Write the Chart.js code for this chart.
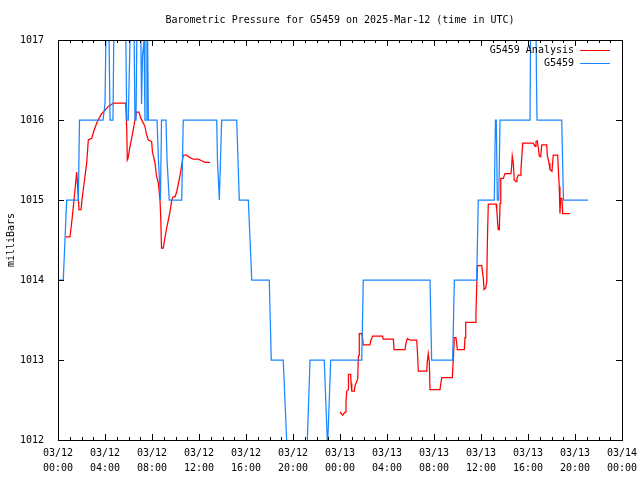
<!DOCTYPE html>
<html>
<head>
<meta charset="utf-8">
<script src="https://cdn.jsdelivr.net/npm/chart.js@4.4.1/dist/chart.umd.min.js"></script>
<style>
  html, body { margin: 0; padding: 0; background: #fff; }
  canvas { display: block; }
</style>
</head>
<body>
<canvas id="pressureChart" width="640" height="480"></canvas>
<script>
// hours since 2025-03-12 00:00 UTC
const analysisHours = [0.66, 1.02, 1.19, 1.36, 1.59, 1.70, 1.79, 1.96, 2.07, 2.26, 2.44, 2.58, 2.87, 3.02, 3.29, 3.49, 3.72, 4.00, 4.28, 4.51, 4.71,
    5.76, 5.85, 5.90, 5.96, 6.13, 6.41, 6.55, 6.70, 6.89, 7.06, 7.23, 7.40, 7.53, 7.69, 7.97, 8.04, 8.26, 8.38, 8.54, 8.68, 8.74, 8.81,
    8.96, 9.11, 9.25, 9.39, 9.53, 9.68, 9.79, 9.96, 10.10, 10.24, 10.38, 10.53, 10.66, 10.95, 11.23, 11.51, 11.94, 12.23, 12.51, 12.94,
    18.00,
    24.00, 24.23, 24.43, 24.51, 24.57, 24.71, 24.72, 24.91, 24.94, 25.00, 25.22, 25.28, 25.42, 25.51, 25.56, 25.62, 25.64, 25.85, 25.93, 25.98,
    26.55, 26.64, 26.78, 27.63, 27.68, 28.54, 28.60, 29.53, 29.62, 29.73, 29.96, 30.53, 30.61, 30.66, 31.38, 31.43, 31.51, 31.60, 31.66,
    32.51, 32.57, 32.66, 33.56, 33.64, 33.73, 33.87, 33.93, 33.98, 34.58, 34.64, 34.70, 35.49, 35.57, 35.63, 35.70, 36.06, 36.20, 36.26,
    36.40, 36.49, 36.54, 36.62, 37.28, 37.34, 37.42, 37.47, 37.56, 37.62, 37.68, 37.90, 38.04, 38.55, 38.61, 38.66, 38.75, 38.83, 38.98,
    39.06, 39.17, 39.32, 39.40, 39.55, 40.45, 40.60, 40.68, 40.79, 40.88, 40.96, 41.08, 41.17, 41.59, 41.64, 41.79, 41.87, 42.04, 42.15,
    42.53, 42.58, 42.66, 42.72, 42.78, 42.89, 42.95, 43.57];
const analysisValues = [1014.54, 1014.54, 1014.75, 1015.0, 1015.35, 1015.1, 1014.88, 1014.88, 1015.04, 1015.25, 1015.46, 1015.75, 1015.77, 1015.85, 1015.96, 1016.02, 1016.08, 1016.12, 1016.17, 1016.19, 1016.21,
    1016.21, 1015.88, 1015.5, 1015.52, 1015.67, 1015.88, 1016.0, 1016.1, 1016.1, 1016.02, 1015.97, 1015.92, 1015.82, 1015.75, 1015.73, 1015.6, 1015.46, 1015.3, 1015.21, 1015.0, 1014.8, 1014.4,
    1014.4, 1014.54, 1014.65, 1014.75, 1014.85, 1015.0, 1015.04, 1015.04, 1015.1, 1015.2, 1015.3, 1015.44, 1015.56, 1015.56, 1015.53, 1015.51, 1015.51, 1015.49, 1015.47, 1015.47,
    null,
    1012.35, 1012.31, 1012.35, 1012.48, 1012.61, 1012.63, 1012.82, 1012.82, 1012.71, 1012.61, 1012.61, 1012.68, 1012.73, 1012.77, 1013.04, 1013.06, 1013.33, 1013.33, 1013.26, 1013.19,
    1013.19, 1013.25, 1013.3, 1013.3, 1013.26, 1013.26, 1013.13, 1013.13, 1013.21, 1013.27, 1013.25, 1013.25, 1013.04, 1012.86, 1012.86, 1012.98, 1013.08, 1012.98, 1012.63,
    1012.63, 1012.7, 1012.78, 1012.78, 1013.0, 1013.28, 1013.28, 1013.21, 1013.13, 1013.13, 1013.28, 1013.47, 1013.47, 1013.58, 1013.9, 1014.18, 1014.18, 1014.02, 1013.88,
    1013.9, 1013.98, 1014.46, 1014.95, 1014.95, 1014.88, 1014.71, 1014.63, 1014.63, 1014.96, 1015.27, 1015.27, 1015.33, 1015.33, 1015.42, 1015.55, 1015.46, 1015.25, 1015.23,
    1015.27, 1015.31, 1015.31, 1015.38, 1015.71, 1015.71, 1015.67, 1015.73, 1015.74, 1015.65, 1015.55, 1015.54, 1015.69, 1015.69, 1015.56, 1015.46, 1015.38, 1015.36, 1015.56,
    1015.56, 1015.38, 1015.17, 1014.83, 1015.02, 1015.02, 1014.83, 1014.83];

const stationHours = [0.00, 0.45, 0.74, 1.73, 1.83, 3.83, 4.00, 4.17, 4.26, 4.43, 4.68, 4.81, 5.70, 5.85, 5.98, 6.13, 6.27, 6.41, 6.55, 6.64,
    6.77, 6.98, 7.11, 7.19, 7.32, 7.40, 7.49, 7.57, 7.69, 8.43, 8.55, 8.72, 8.81, 9.19, 9.28, 9.47, 10.53, 10.66, 13.51, 13.57, 13.73, 13.93,
    15.21, 15.43, 16.20, 16.49, 17.98, 18.15, 19.17, 19.46, 19.57, 21.11, 21.22, 21.45, 22.66, 22.94, 23.21, 25.85, 25.98, 31.66, 31.80,
    33.59, 33.73, 35.63, 35.77, 37.13, 37.23, 37.30, 37.39, 37.51, 37.62, 40.17, 40.26, 40.64, 40.72, 40.77, 42.87, 43.02, 45.13];
const stationValues = [1014, 1014, 1015, 1015, 1016, 1016, 1016.2, 1018, 1018, 1016, 1016, 1018, 1018, 1016, 1016, 1017, 1018, 1018, 1016, 1016,
    1018, 1018, 1016.2, 1016.8, 1017, 1016, 1016, 1018, 1016, 1016, 1015.5, 1015, 1016, 1016, 1015.5, 1015, 1015, 1016, 1016, 1015.5, 1015, 1016,
    1016, 1015, 1015, 1014, 1014, 1013, 1013, 1012, 1011.6, 1011.6, 1012, 1013, 1013, 1011.9, 1013, 1013, 1014, 1014, 1013,
    1013, 1014, 1014, 1015, 1015, 1016, 1016, 1015, 1015, 1016, 1016, 1018, 1018, 1016.5, 1016, 1016, 1015, 1015];

const xTickHours = [0, 4, 8, 12, 16, 20, 24, 28, 32, 36, 40, 44, 48];
const xTickDates = ['03/12', '03/12', '03/12', '03/12', '03/12', '03/12', '03/13', '03/13', '03/13', '03/13', '03/13', '03/13', '03/14'];
const xTickTimes = ['00:00', '04:00', '08:00', '12:00', '16:00', '20:00', '00:00', '04:00', '08:00', '12:00', '16:00', '20:00', '00:00'];
const yTickValues = [1012, 1013, 1014, 1015, 1016, 1017];

const FONT = '"DejaVu Sans Mono", "Liberation Mono", monospace';
const RED = '#ff0000';
const BLUE = '#1a86ff';

function toPoints(hours, values) {
    return hours.map((h, i) => ({ x: h, y: values[i] }));
}

// gnuplot style frame: inward ticks on all four sides, title, y label, key
const gnuFrame = {
    id: 'gnuFrame',
    afterDraw(chart) {
        const { ctx, chartArea: a, scales: { x, y } } = chart;
        ctx.save();
        ctx.strokeStyle = '#000';
        ctx.lineWidth = 1;
        ctx.beginPath();
        for (let h = 0; h <= 48; h++) {
            const px = Math.round(x.getPixelForValue(h)) + 0.5;
            const len = h % 4 === 0 ? 6 : 3;
            ctx.moveTo(px, a.bottom); ctx.lineTo(px, a.bottom - len);
            ctx.moveTo(px, a.top); ctx.lineTo(px, a.top + len);
        }
        yTickValues.forEach(v => {
            const py = Math.round(y.getPixelForValue(v)) + 0.5;
            ctx.moveTo(a.left, py); ctx.lineTo(a.left + 6, py);
            ctx.moveTo(a.right, py); ctx.lineTo(a.right - 6, py);
        });
        ctx.stroke();
        ctx.strokeRect(a.left + 0.5, a.top + 0.5, a.right - a.left, a.bottom - a.top);

        ctx.fillStyle = '#000';
        ctx.font = '10px ' + FONT;
        ctx.textAlign = 'center';
        ctx.textBaseline = 'middle';
        ctx.fillText('Barometric Pressure for G5459 on 2025-Mar-12 (time in UTC)', (a.left + a.right) / 2, 20);

        ctx.save();
        ctx.translate(11, (a.top + a.bottom) / 2);
        ctx.rotate(-Math.PI / 2);
        ctx.fillText('milliBars', 0, 0);
        ctx.restore();

        const keys = [['G5459 Analysis', RED], ['G5459', BLUE]];
        ctx.textAlign = 'right';
        keys.forEach(([label, color], i) => {
            const ky = 50 + i * 13;
            ctx.fillStyle = '#000';
            ctx.fillText(label, a.right - 48, ky);
            ctx.strokeStyle = color;
            ctx.beginPath();
            ctx.moveTo(a.right - 42, ky + 0.5);
            ctx.lineTo(a.right - 12, ky + 0.5);
            ctx.stroke();
        });
        ctx.restore();
    }
};

const ctx = document.getElementById('pressureChart').getContext('2d');
const pressureChart = new Chart(ctx, {
    type: 'line',
    data: {
        datasets: [{
            label: 'G5459 Analysis',
            data: toPoints(analysisHours, analysisValues),
            borderColor: RED,
            borderWidth: 1.25,
            pointRadius: 0,
            tension: 0,
            spanGaps: false,
            order: 1
        }, {
            label: 'G5459',
            data: toPoints(stationHours, stationValues),
            borderColor: BLUE,
            borderWidth: 1.25,
            pointRadius: 0,
            tension: 0,
            order: 0
        }]
    },
    options: {
        responsive: false,
        animation: false,
        devicePixelRatio: 1,
        layout: { padding: { top: 40, right: 18, left: 0, bottom: 0 } },
        plugins: {
            legend: { display: false },
            title: { display: false },
            tooltip: { enabled: false }
        },
        scales: {
            x: {
                type: 'linear',
                min: 0,
                max: 48,
                grid: { display: false },
                border: { display: false },
                afterFit: s => { s.height = 40; },
                ticks: {
                    stepSize: 4,
                    autoSkip: false,
                    maxRotation: 0,
                    padding: -2,
                    color: '#000',
                    font: { family: FONT, size: 10, lineHeight: 1.5 },
                    callback: v => {
                        const i = xTickHours.indexOf(v);
                        return i < 0 ? '' : [xTickDates[i], xTickTimes[i]];
                    }
                }
            },
            y: {
                min: 1012,
                max: 1017,
                grid: { display: false },
                border: { display: false },
                afterFit: s => { s.width = 58; },
                ticks: {
                    stepSize: 1,
                    padding: 6,
                    color: '#000',
                    font: { family: FONT, size: 10 },
                    callback: v => String(v)
                }
            }
        }
    },
    plugins: [gnuFrame]
});
</script>
</body>
</html>
